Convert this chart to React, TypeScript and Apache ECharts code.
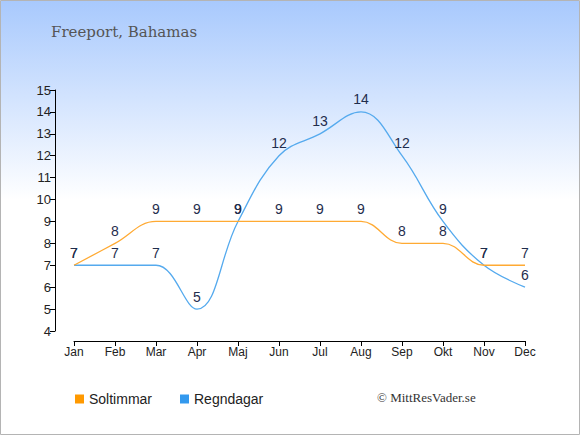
import React, { useEffect, useRef } from "react";
import * as echarts from "echarts";

const months = ["Jan", "Feb", "Mar", "Apr", "Maj", "Jun", "Jul", "Aug", "Sep", "Okt", "Nov", "Dec"];
const soltimmar = [7, 8, 9, 9, 9, 9, 9, 9, 8, 8, 7, 7];
const regndagar = [7, 7, 7, 5, 9, 12, 13, 14, 12, 9, 7, 6];
const seriesNames = ["Soltimmar", "Regndagar"];
const legendColors = ["#ff9900", "#3399ee"];
const titleText = "Freeport, Bahamas";
const copyrightText = "© MittResVader.se";

export default function App() {
  const ref = useRef<HTMLDivElement>(null);
  useEffect(() => {
    document.body.style.margin = "0";
    const chart = echarts.init(ref.current!, null, { renderer: "svg" });
    const labelStyle = {
      show: true,
      position: "top" as const,
      distance: 5,
      color: "#1f2d4d",
      fontSize: 14,
      fontFamily: "Liberation Sans",
    };
    chart.setOption({
      animation: false,
      graphic: [
        {
          type: "rect",
          z: -10,
          silent: true,
          shape: { x: 0.5, y: 0.5, width: 579, height: 434 },
          style: {
            fill: new echarts.graphic.LinearGradient(0, 0, 0, 1, [
              { offset: 0, color: "#a8c9fd" },
              { offset: 0.46, color: "#ffffff" },
              { offset: 1, color: "#ffffff" },
            ]),
            stroke: "#b4b4b4",
            lineWidth: 1,
          },
        },
        {
          type: "text",
          left: 51,
          top: 24,
          style: {
            text: titleText,
            fill: "#555555",
            font: "15px 'DejaVu Serif'",
          },
        },
        {
          type: "text",
          left: 377,
          top: 391,
          style: {
            text: copyrightText,
            fill: "#333333",
            font: "13px 'Liberation Serif'",
          },
        },
      ],
      legend: {
        left: 70,
        top: 387,
        icon: "rect",
        itemWidth: 9,
        itemHeight: 9,
        itemGap: 28,
        textStyle: { fontSize: 14, color: "#222", fontFamily: "Liberation Sans" },
        data: seriesNames.map((n, i) => ({
          name: n,
          itemStyle: { color: legendColors[i], opacity: 1, borderWidth: 0 },
        })),
      },
      grid: { left: 74, right: 55, top: 90, bottom: 104, containLabel: false },
      xAxis: {
        type: "category",
        data: months,
        boundaryGap: false,
        offset: 10,
        axisLine: { lineStyle: { color: "#000", width: 1 } },
        axisTick: { show: true, length: 5, lineStyle: { color: "#000" } },
        axisLabel: { color: "#222", fontSize: 12, fontFamily: "Liberation Sans", margin: 5 },
        splitLine: { show: false },
      },
      yAxis: {
        type: "value",
        min: 4,
        max: 15,
        interval: 1,
        offset: 19,
        axisLine: { show: true, lineStyle: { color: "#000", width: 1 } },
        axisTick: { show: true, length: 5, lineStyle: { color: "#000" } },
        axisLabel: { color: "#222", fontSize: 13, fontFamily: "Liberation Sans", margin: 4 },
        splitLine: { show: false },
      },
      series: [
        {
          name: seriesNames[0],
          type: "line",
          data: soltimmar,
          smooth: 0.4,
          symbol: "circle",
          symbolSize: 1,
          showSymbol: true,
          itemStyle: { color: "rgba(0,0,0,0)", borderWidth: 0 },
          lineStyle: { color: "#ffaa33", width: 1.3 },
          label: labelStyle,
          z: 3,
        },
        {
          name: seriesNames[1],
          type: "line",
          data: regndagar,
          smooth: 0.4,
          symbol: "circle",
          symbolSize: 1,
          showSymbol: true,
          itemStyle: { color: "rgba(0,0,0,0)", borderWidth: 0 },
          lineStyle: { color: "#55aaee", width: 1.3 },
          label: labelStyle,
          z: 2,
        },
      ],
    });
    return () => chart.dispose();
  }, []);
  return <div ref={ref} style={{ width: 580, height: 435 }} />;
}
